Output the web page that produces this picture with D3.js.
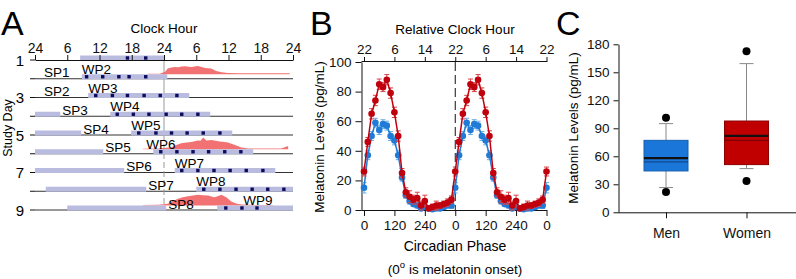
<!DOCTYPE html>
<html>
<head>
<meta charset="utf-8">
<script src="https://cdn.jsdelivr.net/npm/d3@7"></script>
<style>
  body { margin: 0; background: #fff; }
  svg { font-family: "Liberation Sans", Arial, sans-serif; }
  .axis text { font-family: "Liberation Sans", Arial, sans-serif; fill: #111; }
  .axis path, .axis line { stroke: #111; }
</style>
</head>
<body>
<script>
// ---- panel A: protocol raster ----
var clockLabels = ["24", "6", "12", "18", "24", "6", "12", "18", "24"];
var studyDays = [1, 2, 3, 4, 5, 6, 7, 8, 9];
var dayLabels = [1, 3, 5, 7, 9];
var wakeStart = [8.4, 8.7, 9.9, 14, 17.9, 22, 26, 30, 33.9];
var wakeEnd = [24.2, 24.6, 28.7, 32.6, 36.7, 40.6, 44.7, 48.4, 48];
var wakeLabels = ["", "WP2", "WP3", "WP4", "WP5", "WP6", "WP7", "WP8", "WP9"];
var sleepLabels = ["", "SP1", "SP2", "SP3", "SP4", "SP5", "SP6", "SP7", "SP8"];
var sampleHours = [
  [17.2, 20.6],
  [9.6, 12.6, 15.6, 17.5, 20.6],
  [11.3, 14.4, 17.2, 20.3, 23.3, 26.4],
  [15.3, 18.3, 21.2, 24.4, 27.3, 30.3],
  [19.3, 22.5, 25.4, 28.3, 31.3, 34.4],
  [23.4, 26.4, 29.4, 32.3, 35.3, 38.3],
  [27.3, 30.3, 33.3, 36.3, 39.3, 42.4],
  [31.4, 34.4, 37.4, 40.4, 43.3, 46.3],
  [35.5, 38.5, 41.3]
];
// melatonin profiles shown in the raster (row, hour, level)
var melRows = [2, 6, 9];
var melHours = [
  [21, 23.2, 24.2, 24.7, 25.4, 26, 26.7, 27.3, 27.9, 28.6, 29.1, 29.7, 30.3, 31, 31.6, 32.2, 32.8, 33.7, 34.7, 35.9, 38, 41, 44, 47.4],
  [20.1, 23, 25.4, 26.3, 27.2, 28.2, 29.1, 29.7, 30.3, 30.8, 31.3, 31.9, 32.4, 32.8, 33.6, 34.4, 35.2, 35.9, 37.2, 38.4, 39.6, 43, 45.8, 47.1],
  [20.1, 23, 24.7, 25.6, 26.6, 27.5, 28.5, 29.4, 30.3, 31.2, 32.2, 32.8, 33.4, 34.1, 34.7, 35.2, 35.6, 36.5, 37.4, 38.4, 41, 44.3]
];
var melLevels = [
  [4, 5, 20, 48, 56, 61, 58, 64, 67, 62, 61, 65, 69, 60, 53, 50, 48, 28, 17, 11, 9, 9, 8, 8],
  [5, 6, 17, 35, 50, 56, 61, 66, 72, 70, 97, 72, 76, 78, 70, 64, 60, 56, 36, 14, 6, 6, 6, 28],
  [4, 6, 14, 35, 56, 68, 78, 84, 89, 86, 83, 76, 69, 80, 89, 78, 69, 33, 16, 8, 5, 4]
];

// ---- panel B: melatonin by circadian phase ----
var phaseTicks = [0, 120, 240, 360, 480, 600, 720];
var phaseLabels = ["0", "120", "240", "0", "120", "240", "0"];
var relClockLabels = ["22", "6", "14", "22", "6", "14", "22"];
var phaseBins = [0, 15, 30, 45, 60, 75, 90, 105, 120, 135, 150, 165, 180, 195, 210, 225, 240, 255, 270, 285, 300, 315, 330, 345];
var womenMean = [26, 46, 65, 74, 85, 83, 88, 79, 66, 50, 25, 12, 9, 7, 8, 3, 6, 1, 2, 3, 3, 4, 5, 7];
var womenSem = [3, 3, 3.5, 3.5, 3.5, 3, 3.5, 3.5, 3.5, 3.5, 3, 3, 4, 3, 4, 3, 4, 2, 2, 3, 2, 2, 2.5, 2.5];
var menMean = [15, 37, 50, 59, 54, 58, 57, 50, 47, 37, 22, 10, 6, 4, 3, 1, 2, 1, 0.5, 1, 1, 2, 3, 3];
var menSem = [3.5, 3, 3, 3, 3, 3, 3, 3, 3, 3, 2.5, 2, 2, 1.5, 1.5, 1.5, 1.5, 1.5, 1.5, 1.5, 1.5, 1.5, 1.5, 2];

// ---- panel C: box plots ----
var groups = ["Men", "Women"];
var boxQ1 = [44.3, 51.1];
var boxQ3 = [77.1, 97.8];
var boxMedian = [58, 81.8];
var boxMean = [54, 77.1];
var whiskerLo = [26.5, 46.8];
var whiskerHi = [95, 159.3];
var outliers = [[101.4, 21.8], [172.5, 33.5]];

var W = 796, H = 279;
var svg = d3.select("body").append("svg")
  .attr("width", W)
  .attr("height", H);

// panel letters
[["A", 1], ["B", 310], ["C", 556]].forEach(function (p) {
  svg.append("text")
    .attr("x", p[1]).attr("y", 35)
    .style("font-size", "34px")
    .text(p[0]);
});

// ================= Panel A =================
var xA = d3.scaleLinear().domain([0, 48]).range([35, 293]);
var yA = d3.scaleLinear().domain([1, 9]).range([60, 210]);
var gA = svg.append("g");

// row lines
gA.selectAll(".row")
  .data(studyDays.slice(1))
  .enter().append("line")
    .attr("x1", xA(0)).attr("x2", xA(48))
    .attr("y1", function (d) { return yA(d); })
    .attr("y2", function (d) { return yA(d); })
    .attr("stroke", "#333").attr("stroke-width", 1);

// left ticks
gA.selectAll(".ltick")
  .data(studyDays)
  .enter().append("line")
    .attr("x1", xA(0) - 5).attr("x2", xA(0))
    .attr("y1", function (d) { return yA(d); })
    .attr("y2", function (d) { return yA(d); })
    .attr("stroke", "#111");

gA.selectAll(".dlab")
  .data(dayLabels)
  .enter().append("text")
    .attr("x", 24).attr("y", function (d) { return yA(d) + 5.5; })
    .attr("text-anchor", "end")
    .style("font-size", "15px")
    .text(function (d) { return d; });

gA.append("text")
  .attr("transform", "translate(12,128) rotate(-90)")
  .attr("text-anchor", "middle")
  .style("font-size", "12.5px")
  .text("Study Day");

// 24h reference line
gA.append("line")
  .attr("x1", xA(24)).attr("x2", xA(24))
  .attr("y1", yA(1)).attr("y2", yA(5))
  .attr("stroke", "#999").attr("stroke-width", 1);
gA.append("line")
  .attr("x1", xA(24)).attr("x2", xA(24))
  .attr("y1", yA(5)).attr("y2", yA(9))
  .attr("stroke", "#999").attr("stroke-width", 1)
  .attr("stroke-dasharray", "6,3");

// melatonin areas
var melScale = 0.12;
melRows.forEach(function (r, k) {
  var base = yA(r) - 4.5;
  var pts = melHours[k].map(function (h, i) { return [h, melLevels[k][i]]; });
  var area = d3.area()
    .x(function (d) { return xA(d[0]); })
    .y0(base)
    .y1(function (d) { return base - d[1] * melScale; });
  gA.append("path")
    .datum(pts)
    .attr("d", area)
    .attr("fill", "#f27172");
});

// wake bars (with spill of previous episode past 24 h)
var barH = 5;
studyDays.forEach(function (d, i) {
  var y = yA(d);
  if (i > 0 && wakeEnd[i - 1] - 24 > 1) {
    gA.append("rect")
      .attr("x", xA(Math.max(0, wakeStart[i - 1] - 24)))
      .attr("y", y - 4.5)
      .attr("width", xA(wakeEnd[i - 1] - 24) - xA(Math.max(0, wakeStart[i - 1] - 24)))
      .attr("height", barH)
      .attr("fill", "#b9bbdf");
  }
  gA.append("rect")
    .attr("x", xA(wakeStart[i]))
    .attr("y", y - 4.5)
    .attr("width", xA(Math.min(48, wakeEnd[i])) - xA(wakeStart[i]))
    .attr("height", barH)
    .attr("fill", "#b9bbdf");
  gA.selectAll(".s" + i)
    .data(sampleHours[i])
    .enter().append("rect")
      .attr("x", function (h) { return xA(h) - 1.7; })
      .attr("y", y - 3.7)
      .attr("width", 3.4).attr("height", 3.4)
      .attr("fill", "#0b0b5e");
});

// SP / WP labels
studyDays.forEach(function (d, i) {
  var y = yA(d);
  if (sleepLabels[i]) {
    var spillEnd = Math.max(0, wakeEnd[i - 1] - 24);
    gA.append("text")
      .attr("x", Math.max(44, xA(spillEnd) + 2))
      .attr("y", y - 1.5)
      .style("font-size", "13.5px")
      .text(sleepLabels[i]);
  }
  if (wakeLabels[i]) {
    var shift = d === 9 ? 26 : (d === 6 ? -7 : 0);
    gA.append("text")
      .attr("x", xA(wakeStart[i]) + shift)
      .attr("y", y - 5)
      .style("font-size", "13.5px")
      .text(wakeLabels[i]);
  }
});

// top axis
gA.append("g")
  .attr("class", "axis")
  .attr("transform", "translate(0," + yA(1) + ")")
  .call(d3.axisTop(xA)
    .tickValues(d3.range(0, 49, 6))
    .tickFormat(function (d, i) { return clockLabels[i]; })
    .tickSize(5).tickSizeOuter(0).tickPadding(2))
  .selectAll("text").style("font-size", "14px");

gA.append("text")
  .attr("x", xA(24)).attr("y", 33)
  .attr("text-anchor", "middle")
  .style("font-size", "13.5px")
  .text("Clock Hour");

// ================= Panel B =================
var xB = d3.scaleLinear().domain([0, 720]).range([364, 546.5]);
var yB = d3.scaleLinear().domain([0, 100]).range([210, 62]);
var gB = svg.append("g");

var axL = gB.append("g")
  .attr("class", "axis")
  .attr("transform", "translate(361.5,0)")
  .call(d3.axisLeft(yB).tickValues([0, 20, 40, 60, 80, 100]).tickSize(6).tickSizeOuter(0).tickPadding(4));
axL.selectAll("text").style("font-size", "13.5px");

var axBot = gB.append("g")
  .attr("class", "axis")
  .attr("transform", "translate(0,210)")
  .call(d3.axisBottom(xB).tickValues(phaseTicks)
    .tickFormat(function (d, i) { return phaseLabels[i]; })
    .tickSize(6).tickSizeOuter(0).tickPadding(4));
axBot.select(".domain").attr("d", "M361.5,0.5H547");
axBot.selectAll("text").style("font-size", "13.5px");

var axTop = gB.append("g")
  .attr("class", "axis")
  .attr("transform", "translate(0,62)")
  .call(d3.axisTop(xB).tickValues(phaseTicks)
    .tickFormat(function (d, i) { return relClockLabels[i]; })
    .tickSize(5).tickSizeOuter(0).tickPadding(3));
axTop.select(".domain").attr("d", "M361.5,-0.5H547");
axTop.selectAll("text").style("font-size", "13.5px");

gB.append("line")
  .attr("x1", xB(360)).attr("x2", xB(360))
  .attr("y1", yB(100)).attr("y2", yB(0))
  .attr("stroke", "#111").attr("stroke-width", 1)
  .attr("stroke-dasharray", "9,4");

gB.append("text")
  .attr("x", 455).attr("y", 34)
  .attr("text-anchor", "middle")
  .style("font-size", "13.5px")
  .text("Relative Clock Hour");

gB.append("text")
  .attr("x", 455).attr("y", 251)
  .attr("text-anchor", "middle")
  .style("font-size", "14px")
  .text("Circadian Phase");

var note = gB.append("text")
  .attr("x", 455).attr("y", 274)
  .attr("text-anchor", "middle")
  .style("font-size", "13.5px");
note.append("tspan").text("(0");
note.append("tspan").attr("dy", -6).style("font-size", "9.5px").text("o");
note.append("tspan").attr("dy", 6).text(" is melatonin onset)");

gB.append("text")
  .attr("transform", "translate(324,137) rotate(-90)")
  .attr("text-anchor", "middle")
  .style("font-size", "13.5px")
  .text("Melatonin Levels (pg/mL)");

// double-plotted series
function doublePlot(mean, sem) {
  var out = [];
  [0, 360].forEach(function (off) {
    phaseBins.forEach(function (p, i) { out.push({ x: p + off, v: mean[i], e: sem[i] }); });
  });
  out.push({ x: 720, v: mean[0], e: sem[0] });
  return out;
}

function drawSeries(pts, col, errCol) {
  var g = gB.append("g");
  g.selectAll(".eb").data(pts).enter().append("path")
    .attr("d", function (d) {
      var x = xB(d.x), y1 = yB(d.v + d.e), y0 = yB(Math.max(0, d.v - d.e));
      return "M" + x + "," + y0 + "V" + y1 + "M" + (x - 2.5) + "," + y1 + "H" + (x + 2.5) +
        "M" + (x - 2.5) + "," + y0 + "H" + (x + 2.5);
    })
    .attr("stroke", errCol).attr("stroke-width", 1).attr("fill", "none");
  g.append("path")
    .datum(pts)
    .attr("d", d3.line().x(function (d) { return xB(d.x); }).y(function (d) { return yB(d.v); }))
    .attr("fill", "none").attr("stroke", col).attr("stroke-width", 1.5);
  g.selectAll(".pt").data(pts).enter().append("circle")
    .attr("cx", function (d) { return xB(d.x); })
    .attr("cy", function (d) { return yB(d.v); })
    .attr("r", 3.3)
    .attr("fill", col);
}

drawSeries(doublePlot(menMean, menSem), "#1f7bd6", "#6aaae6");
drawSeries(doublePlot(womenMean, womenSem), "#c0000c", "#d8404a");

// ================= Panel C =================
var xC = d3.scalePoint().domain(groups).range([666, 746.5]);
var yC = d3.scaleLinear().domain([0, 180]).range([212.3, 44.3]);
var gC = svg.append("g");

var axCL = gC.append("g")
  .attr("class", "axis")
  .attr("transform", "translate(618.5,0)")
  .call(d3.axisLeft(yC).tickValues(d3.range(0, 181, 30)).tickSize(5).tickSizeOuter(0).tickPadding(4));
axCL.selectAll("text").style("font-size", "13.5px");

var axCB = gC.append("g")
  .attr("class", "axis")
  .attr("transform", "translate(0,212.3)")
  .call(d3.axisBottom(xC).tickSize(6).tickSizeOuter(0).tickPadding(10));
axCB.select(".domain").attr("d", "M618.5,0.5H796");
axCB.selectAll("text").style("font-size", "14px");

gC.append("text")
  .attr("transform", "translate(578,128) rotate(-90)")
  .attr("text-anchor", "middle")
  .style("font-size", "13.5px")
  .text("Melatonin Levels (pg/mL)");

var boxFill = ["#1a76d8", "#c00000"];
var boxStroke = ["#135fb0", "#8c0000"];
var meanCol = ["#0d3f7a", "#6e0000"];
var bw = 44;

groups.forEach(function (g, i) {
  var cx = xC(g);
  // whiskers
  gC.append("line")
    .attr("x1", cx).attr("x2", cx)
    .attr("y1", yC(whiskerLo[i])).attr("y2", yC(boxQ1[i]))
    .attr("stroke", "#888");
  gC.append("line")
    .attr("x1", cx).attr("x2", cx)
    .attr("y1", yC(boxQ3[i])).attr("y2", yC(whiskerHi[i]))
    .attr("stroke", "#888");
  [whiskerLo[i], whiskerHi[i]].forEach(function (v) {
    gC.append("line")
      .attr("x1", cx - 7).attr("x2", cx + 7)
      .attr("y1", yC(v)).attr("y2", yC(v))
      .attr("stroke", "#888");
  });
  gC.append("rect")
    .attr("x", cx - bw / 2).attr("y", yC(boxQ3[i]))
    .attr("width", bw).attr("height", yC(boxQ1[i]) - yC(boxQ3[i]))
    .attr("fill", boxFill[i]).attr("stroke", boxStroke[i]).attr("stroke-width", 1);
  gC.append("line")
    .attr("x1", cx - bw / 2).attr("x2", cx + bw / 2)
    .attr("y1", yC(boxMean[i])).attr("y2", yC(boxMean[i]))
    .attr("stroke", meanCol[i]).attr("stroke-width", 1);
  gC.append("line")
    .attr("x1", cx - bw / 2).attr("x2", cx + bw / 2)
    .attr("y1", yC(boxMedian[i])).attr("y2", yC(boxMedian[i]))
    .attr("stroke", "#111").attr("stroke-width", 2.2);
  gC.selectAll(".o" + i)
    .data(outliers[i])
    .enter().append("circle")
      .attr("cx", cx).attr("cy", function (v) { return yC(v); })
      .attr("r", 4)
      .attr("fill", "#000");
});
</script>
</body>
</html>
